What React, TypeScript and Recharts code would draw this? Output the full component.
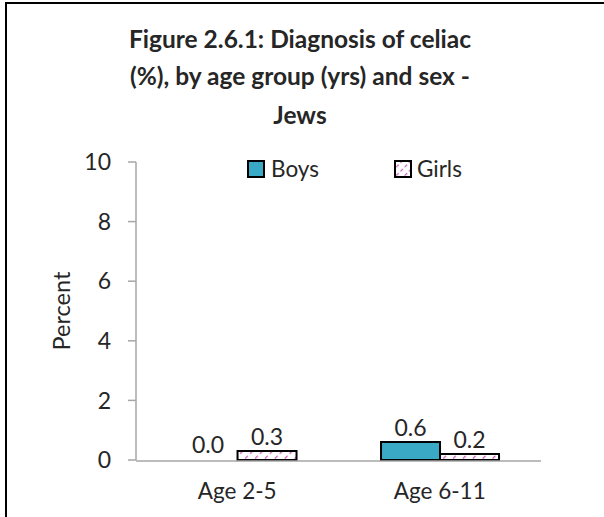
import React from 'react';
import { BarChart, Bar, XAxis, YAxis, Legend, LabelList, Rectangle } from 'recharts';

const categories = ['Age 2-5', 'Age 6-11'];
const boys = [0.0, 0.6];
const girls = [0.3, 0.2];
const yTicks = [0, 2, 4, 6, 8, 10];
const titleLines = [
  'Figure 2.6.1: Diagnosis of celiac',
  '(%), by age group (yrs) and sex -',
  'Jews',
];

const data = categories.map((name, i) => ({ name, boys: boys[i], girls: girls[i] }));

const FONT = 'Lato, "Noto Sans", sans-serif';
const AXIS = '#a6a6a6';
const TEXT = '#262626';
const BOYS = '#3aa9c6';
const PINK = '#cc55b8';

// zero values get a 1px stub so the label still shows, but no outline is drawn
const barShape = (key: 'boys' | 'girls') => (props: any) =>
  props.payload && props.payload[key] === 0 ? <g /> : <Rectangle {...props} />;

const LegendBox = () => (
  <div style={{ display: 'flex', alignItems: 'center', fontFamily: FONT, fontSize: 22.5, color: TEXT }}>
    <svg width={18} height={18} style={{ marginRight: 6 }}>
      <rect x={1} y={1} width={16} height={16} fill={BOYS} stroke="#000" strokeWidth={2} />
    </svg>
    <span style={{ marginRight: 75 }}>Boys</span>
    <svg width={18} height={18} style={{ marginRight: 5 }}>
      <defs>
        <pattern id="girlsLegend" width={6} height={6} patternUnits="userSpaceOnUse" patternTransform="rotate(45)">
          <line x1={0} y1={0} x2={0} y2={6} stroke={PINK} strokeWidth={2.4} strokeDasharray="3.5 2.5" />
        </pattern>
      </defs>
      <rect x={1} y={1} width={16} height={16} fill="url(#girlsLegend)" stroke="#000" strokeWidth={2} />
    </svg>
    <span>Girls</span>
  </div>
);

export default function App() {
  return (
    <div style={{ position: 'absolute', left: 0, top: 0, width: 604, height: 517, background: '#fff' }}>
      <div
        style={{
          position: 'absolute',
          left: 5,
          top: 2,
          width: 599,
          height: 515,
          borderTop: '2px solid #000',
          borderLeft: '2px solid #000',
        }}
      />
      <BarChart
        width={604}
        height={517}
        data={data}
        margin={{ top: 162, right: 63, left: 36, bottom: 55 }}
        barCategoryGap="21%"
        barGap={0}
      >
        <defs>
          <pattern id="girlsFill" width={7} height={7} patternUnits="userSpaceOnUse" patternTransform="rotate(45)">
            <line x1={0} y1={0} x2={0} y2={7} stroke={PINK} strokeWidth={2.5} strokeDasharray="4 3" />
          </pattern>
        </defs>
        <XAxis
          xAxisId="frame"
          type="number"
          domain={[0, 2]}
          ticks={[0, 1, 2]}
          allowDataOverflow
          height={1}
          tick={false}
          tickSize={7}
          axisLine={{ stroke: AXIS, strokeWidth: 1.5 }}
          tickLine={{ stroke: AXIS, strokeWidth: 1.5 }}
        />
        <XAxis
          dataKey="name"
          xAxisId="cat"
          height={1}
          axisLine={false}
          tickLine={false}
          tickSize={0}
          tickMargin={23}
          tick={{ fontSize: 22.5, fill: TEXT, fontFamily: FONT }}
        />
        <YAxis
          width={100}
          domain={[0, 10]}
          ticks={yTicks}
          interval={0}
          tickSize={8}
          tickMargin={17}
          axisLine={{ stroke: AXIS, strokeWidth: 1.5 }}
          tickLine={{ stroke: AXIS, strokeWidth: 1.5 }}
          tick={{ fontSize: 23, fill: TEXT, fontFamily: FONT }}
          label={{
            value: 'Percent',
            angle: -90,
            position: 'insideLeft',
            offset: 26,
            style: { textAnchor: 'middle', fontSize: 23.5, fill: TEXT, fontFamily: FONT },
          }}
        />
        <Legend
          layout="horizontal"
          verticalAlign="middle"
          align="center"
          wrapperStyle={{ top: 155, left: 247, width: 'auto' }}
          content={() => <LegendBox />}
        />
        <Bar
          dataKey="boys"
          name="Boys"
          xAxisId="cat"
          fill={BOYS}
          stroke="#000"
          strokeWidth={2}
          minPointSize={(v: number) => (v === 0 ? 1 : 0)}
          shape={barShape('boys')}
          isAnimationActive={false}
        >
          <LabelList
            dataKey="boys"
            position="top"
            offset={6}
            formatter={(v: number) => Number(v).toFixed(1)}
            style={{ fontSize: 23, fill: TEXT, fontFamily: FONT }}
          />
        </Bar>
        <Bar
          dataKey="girls"
          name="Girls"
          xAxisId="cat"
          fill="url(#girlsFill)"
          stroke="#000"
          strokeWidth={2}
          isAnimationActive={false}
        >
          <LabelList
            dataKey="girls"
            position="top"
            offset={6}
            formatter={(v: number) => Number(v).toFixed(1)}
            style={{ fontSize: 23, fill: TEXT, fontFamily: FONT }}
          />
        </Bar>
      </BarChart>
      <svg width={604} height={140} style={{ position: 'absolute', left: 0, top: 0, pointerEvents: 'none' }}>
        {titleLines.map((line, i) => (
          <text
            key={line}
            x={300}
            y={[48, 85, 124][i]}
            textAnchor="middle"
            fontFamily={FONT}
            fontWeight="bold"
            fontSize={24.5}
            fill={TEXT}
          >
            {line}
          </text>
        ))}
      </svg>
    </div>
  );
}
